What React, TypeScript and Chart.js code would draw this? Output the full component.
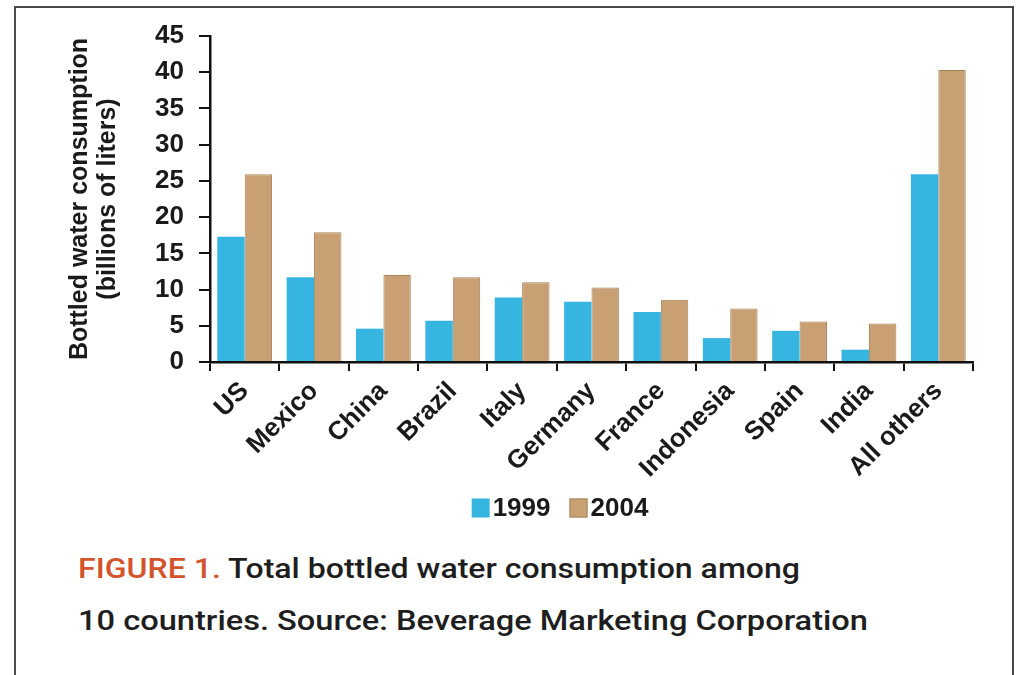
import React, { useEffect, useLayoutEffect, useRef } from "react";
import { Chart, registerables } from "chart.js";

Chart.register(...registerables);

const categories = ["US", "Mexico", "China", "Brazil", "Italy", "Germany", "France", "Indonesia", "Spain", "India", "All others"];
const values1999 = [17.3, 11.7, 4.6, 5.7, 8.9, 8.3, 6.9, 3.3, 4.3, 1.7, 25.9];
const values2004 = [25.9, 17.9, 12.0, 11.7, 11.0, 10.3, 8.6, 7.4, 5.6, 5.3, 40.3];
const seriesLabels = ["1999", "2004"];
const yMin = 0;
const yMax = 45;
const yStep = 5;
const yTitle = ["Bottled water consumption", "(billions of liters)"];
const captionLead = "FIGURE 1.";
const captionLine1 = " Total bottled water consumption among";
const captionLine2 = "10 countries. Source: Beverage Marketing Corporation";

const FONT = "'Liberation Sans', Arial, sans-serif";
const BLUE = "#35b5df";
const TAN = "#c9a074";
const TAN_EDGE = "#a9835a";

// Legend drawn on the canvas from the chart's own datasets
const legendPlugin = {
  id: "customLegend",
  afterDraw(chart: any) {
    const ctx = chart.ctx as CanvasRenderingContext2D;
    const items = chart.data.datasets.map((d: any) => ({ text: d.label, fill: d.backgroundColor, stroke: d.borderColor, bw: d.borderWidth }));
    const boxW = 18;
    const boxH = 19;
    const gapText = 3;
    const gapItem = 19;
    const cy = 508;
    ctx.save();
    ctx.font = `bold 26px ${FONT}`;
    ctx.textBaseline = "middle";
    ctx.textAlign = "left";
    const widths = items.map((it: any) => boxW + gapText + ctx.measureText(it.text).width);
    const total = widths.reduce((a: number, b: number) => a + b, 0) + gapItem * (items.length - 1);
    let x = 560 - total / 2;
    items.forEach((it: any, i: number) => {
      ctx.fillStyle = it.fill;
      ctx.fillRect(x, cy - boxH / 2, boxW, boxH);
      if (it.bw) {
        ctx.strokeStyle = it.stroke;
        ctx.lineWidth = 1;
        ctx.strokeRect(x + 0.5, cy - boxH / 2 + 0.5, boxW - 1, boxH - 1);
      }
      ctx.fillStyle = "#1a1a1a";
      ctx.fillText(it.text, x + boxW + gapText, cy + 1);
      x += widths[i] + gapItem;
    });
    ctx.restore();
  },
};

export default function App() {
  const canvasRef = useRef<HTMLCanvasElement | null>(null);
  const line1Ref = useRef<HTMLDivElement | null>(null);
  const line2Ref = useRef<HTMLDivElement | null>(null);

  useLayoutEffect(() => {
    const fit = (el: HTMLDivElement | null, target: number) => {
      if (!el) return;
      el.style.transform = "none";
      const w = el.getBoundingClientRect().width;
      if (w > 0) el.style.transform = `scaleX(${target / w})`;
    };
    fit(line1Ref.current, 722);
    fit(line2Ref.current, 790);
  }, []);

  useEffect(() => {
    if (!canvasRef.current) return;
    const chart = new Chart(canvasRef.current, {
      type: "bar",
      data: {
        labels: categories,
        datasets: [
          {
            label: seriesLabels[0],
            data: values1999,
            backgroundColor: BLUE,
            borderColor: BLUE,
            borderWidth: 0,
          },
          {
            label: seriesLabels[1],
            data: values2004,
            backgroundColor: TAN,
            borderColor: TAN_EDGE,
            borderWidth: 1,
          },
        ],
      },
      plugins: [legendPlugin],
      options: {
        responsive: false,
        animation: false,
        devicePixelRatio: 1,
        layout: { padding: { left: 64, right: 47, top: 36, bottom: 9 } },
        datasets: {
          bar: { categoryPercentage: 0.79, barPercentage: 1.0 },
        },
        plugins: {
          tooltip: { enabled: false },
          legend: { display: false },
        },
        scales: {
          x: {
            type: "category",
            afterFit: (scale: any) => {
              scale.height = 169;
            },
            grid: {
              display: true,
              offset: true,
              drawOnChartArea: false,
              drawTicks: true,
              tickLength: 9,
              color: "#111",
              lineWidth: 2,
            },
            border: { display: true, color: "#111", width: 2.5 },
            ticks: {
              autoSkip: false,
              minRotation: 45,
              maxRotation: 45,
              padding: 5,
              color: "#1a1a1a",
              font: { family: FONT, size: 26, weight: "bold" },
            },
          },
          y: {
            min: yMin,
            max: yMax,
            afterFit: (scale: any) => {
              scale.width = 210 - 64;
            },
            grid: {
              display: true,
              drawOnChartArea: false,
              drawTicks: true,
              tickLength: 11,
              color: "#111",
              lineWidth: 2,
            },
            border: { display: true, color: "#111", width: 2.5 },
            ticks: {
              stepSize: yStep,
              padding: 15,
              color: "#1a1a1a",
              font: { family: FONT, size: 26, weight: "bold" },
            },
            title: {
              display: true,
              text: yTitle,
              color: "#1a1a1a",
              padding: { top: 2, bottom: 0 },
              font: { family: FONT, size: 25, weight: "bold", lineHeight: 1.12 },
            },
          },
        },
      },
    });
    return () => chart.destroy();
  }, []);

  const captionStyle: React.CSSProperties = {
    position: "absolute",
    left: 78,
    whiteSpace: "nowrap",
    transformOrigin: "left top",
    fontFamily: "Roboto, 'Liberation Sans', sans-serif",
    fontWeight: 500,
    fontSize: 28,
    lineHeight: "36px",
    color: "#1e1e1e",
  };

  return (
    <div
      style={{
        position: "fixed",
        left: 0,
        top: 0,
        width: 1020,
        height: 675,
        background: "#fff",
        overflow: "hidden",
      }}
    >
      <div
        style={{
          position: "absolute",
          left: 14,
          top: 6,
          width: 996,
          height: 720,
          border: "2px solid #4a4a4a",
        }}
      />
      <canvas
        ref={canvasRef}
        width={1020}
        height={540}
        style={{ position: "absolute", left: 0, top: 0, width: 1020, height: 540 }}
      />
      <div ref={line1Ref} style={{ ...captionStyle, top: 551 }}>
        <span style={{ color: "#d4532c" }}>{captionLead}</span>
        {captionLine1}
      </div>
      <div ref={line2Ref} style={{ ...captionStyle, top: 603 }}>
        {captionLine2}
      </div>
    </div>
  );
}
